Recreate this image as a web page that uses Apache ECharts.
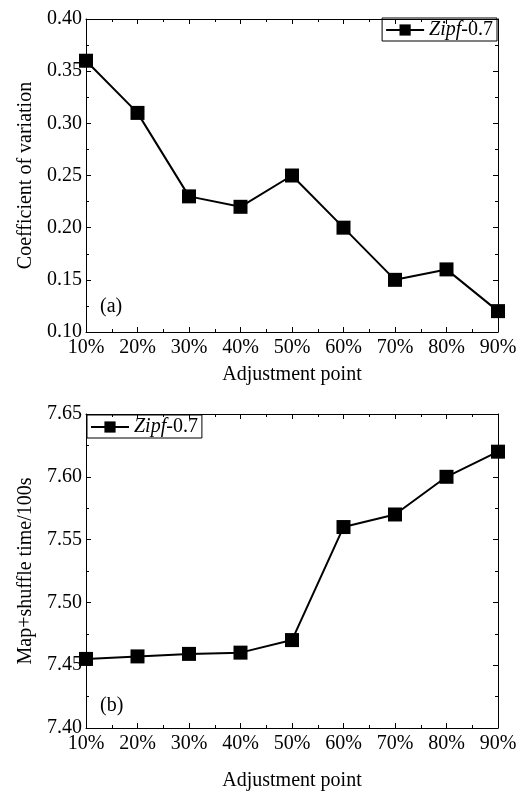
<!DOCTYPE html>
<html lang="en">
<head>
  <meta charset="UTF-8">
  <title>echarts</title>
  <style>
    * { margin: 0; padding: 0; }
    #main { width: 531px; height: 792px; }
  </style>
</head>
<body>
  <div id="main"></div>
  <script src="https://cdn.jsdelivr.net/npm/echarts@6/dist/echarts.min.js"></script>
  <script>
    // 数据
    var points = [10, 20, 30, 40, 50, 60, 70, 80, 90]; // Adjustment point (%)
    var cvValues = [0.36, 0.31, 0.23, 0.22, 0.25, 0.20, 0.15, 0.16, 0.12];
    var timeValues = [7.455, 7.457, 7.459, 7.460, 7.470, 7.560, 7.570, 7.600, 7.620];
    var seriesName = 'Zipf-0.7';

    var FONT = 'Liberation Serif';
    var myCharts = echarts.init(document.getElementById('main'));

    function pairs(ys) {
      return points.map(function (x, i) { return [x, ys[i]]; });
    }

    // 主轴 + 镜像轴 (上/右只显示刻度)
    function xAxes(gridIndex, nameGap) {
      var base = {
        type: 'value', gridIndex: gridIndex, min: 10, max: 90, interval: 10,
        axisLine: { show: true, onZero: false, lineStyle: { color: '#000', width: 1 } },
        axisTick: { show: true, inside: true, length: 5, lineStyle: { color: '#000' } },
        minorTick: { show: true, splitNumber: 2, length: 3, lineStyle: { color: '#000' } },
        splitLine: { show: false }
      };
      return [
        Object.assign({}, base, {
          position: 'bottom',
          name: 'Adjustment point', nameLocation: 'middle',
          nameGap: nameGap,
          nameTextStyle: { fontFamily: FONT, fontSize: 20, color: '#000' },
          axisLabel: { formatter: '{value}%', margin: 6, fontFamily: FONT, fontSize: 20, color: '#000' }
        }),
        Object.assign({}, base, { position: 'top', axisLabel: { show: false } })
      ];
    }

    function yAxes(gridIndex, min, max, name) {
      var base = {
        type: 'value', gridIndex: gridIndex, min: min, max: max, interval: 0.05,
        axisLine: { show: true, lineStyle: { color: '#000', width: 1 } },
        axisTick: { show: true, inside: true, length: 5, lineStyle: { color: '#000' } },
        minorTick: { show: true, splitNumber: 2, length: 3, lineStyle: { color: '#000' } },
        splitLine: { show: false }
      };
      return [
        Object.assign({}, base, {
          position: 'left',
          name: name, nameLocation: 'middle', nameGap: 50,
          nameTextStyle: { fontFamily: FONT, fontSize: 20, color: '#000' },
          axisLabel: {
            margin: 4, fontFamily: FONT, fontSize: 20, color: '#000',
            formatter: function (v) { return v.toFixed(2); }
          }
        }),
        Object.assign({}, base, { position: 'right', axisLabel: { show: false } })
      ];
    }

    var legendBase = {
      data: [seriesName],
      orient: 'horizontal',
      itemWidth: 38, itemHeight: 14, itemGap: 4,
      borderColor: '#000', borderWidth: 1, borderRadius: 0,
      padding: [2, 4, 1, 3],
      formatter: function () { return '{i|Zipf}-0.7'; },
      textStyle: {
        fontFamily: FONT, fontSize: 20, color: '#000',
        rich: { i: { fontFamily: FONT, fontSize: 20, fontStyle: 'italic', color: '#000' } }
      },
      selectedMode: false
    };

    var lineSeries = {
      type: 'line',
      name: seriesName,
      symbol: 'rect',
      symbolSize: 14,
      color: '#000',
      lineStyle: { color: '#000', width: 2 },
      itemStyle: { color: '#000' },
      clip: false,
      animation: false
    };

    var option = {
      backgroundColor: '#fff',
      animation: false,
      grid: [
        { left: 86, right: 33, top: 19, height: 313 },
        { left: 86, right: 33, top: 414, height: 315 }
      ],
      legend: [
        Object.assign({}, legendBase, { right: 34, top: 18 }),
        Object.assign({}, legendBase, { left: 87, top: 415 })
      ],
      xAxis: xAxes(0, 33).concat(xAxes(1, 43)),
      yAxis: yAxes(0, 0.10, 0.40, 'Coefficient of variation')
        .concat(yAxes(1, 7.40, 7.65, 'Map+shuffle time/100s')),
      series: [
        Object.assign({}, lineSeries, { xAxisIndex: 0, yAxisIndex: 0, data: pairs(cvValues) }),
        Object.assign({}, lineSeries, { xAxisIndex: 2, yAxisIndex: 2, data: pairs(timeValues) })
      ],
      graphic: [
        { type: 'text', left: 100, top: 297, style: { text: '(a)', font: '20px "Liberation Serif"', fill: '#000' } },
        { type: 'text', left: 100, top: 696, style: { text: '(b)', font: '20px "Liberation Serif"', fill: '#000' } }
      ]
    };

    myCharts.setOption(option);
  </script>
</body>
</html>
